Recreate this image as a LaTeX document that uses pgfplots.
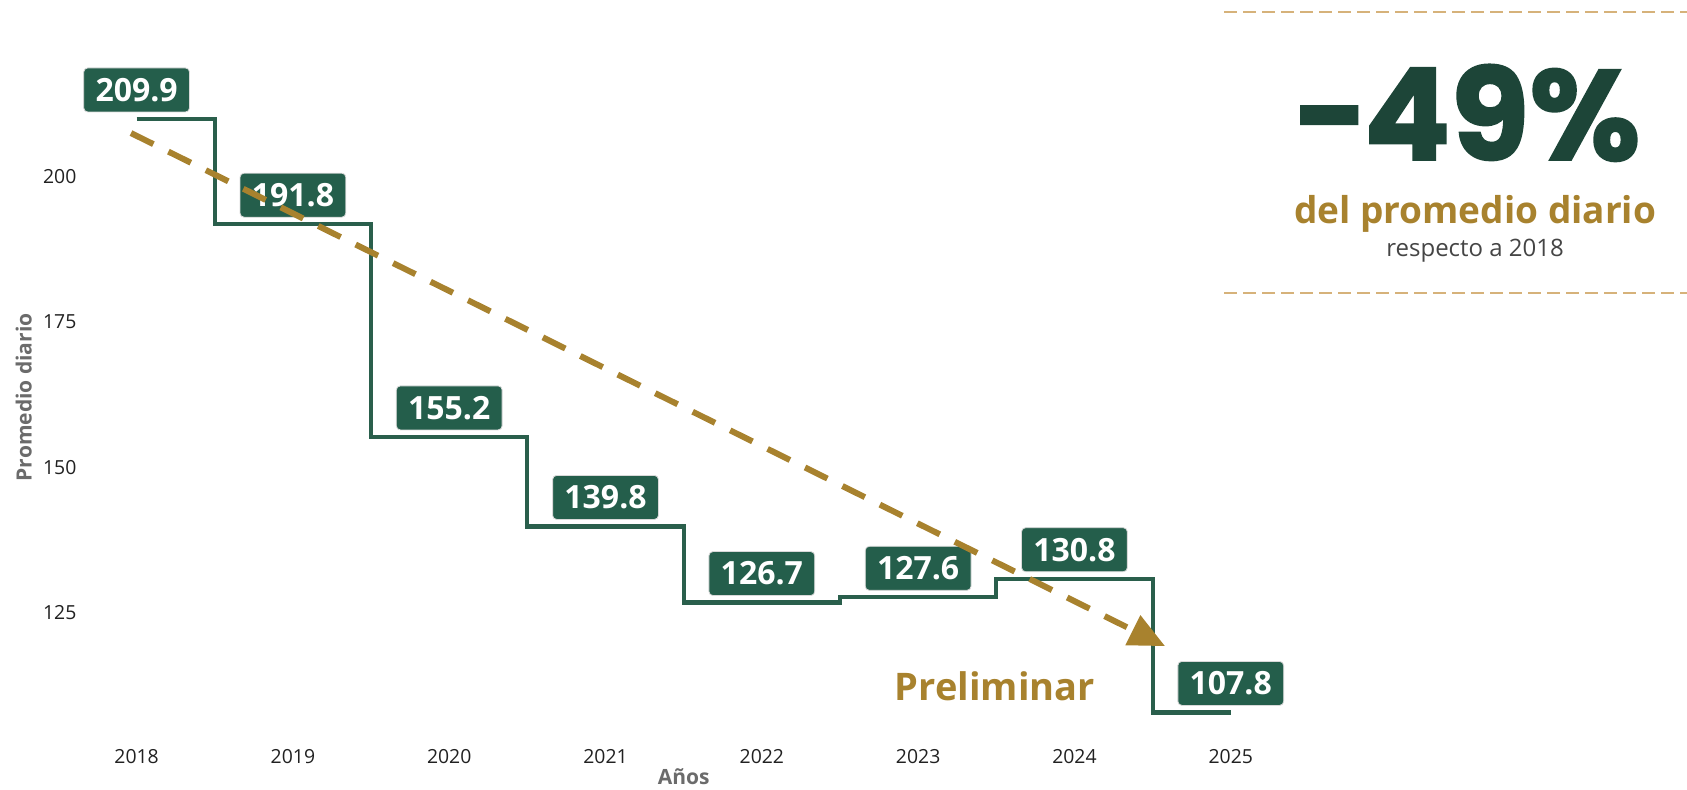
\documentclass[border=0pt]{standalone}
\usepackage{pgfplots}
\pgfplotsset{compat=1.18}
\usetikzlibrary{arrows.meta}
\usepackage{fontspec}
\setmainfont{Open Sans}
\newfontfamily\heavy{Poppins}[BoldFeatures={FakeBold=1.5}]
\definecolor{stepgreen}{HTML}{2A5F4C}
\definecolor{boxgreen}{HTML}{245E4B}
\definecolor{gold}{HTML}{A8822E}
\definecolor{bigdark}{HTML}{1D4538}
\definecolor{rulecol}{HTML}{D6B27A}
\definecolor{labgray}{HTML}{6B6B6B}
\definecolor{subgray}{HTML}{454545}
\begin{document}
\begin{tikzpicture}
\begin{axis}[
  set layers,
  x=78.15pt, y=2.906pt,
  xmin=2017.66, xmax=2025.34,
  ymin=104, ymax=220,
  clip=false,
  axis line style={draw=none},
  major tick length=0pt,
  xtick={2018,2019,2020,2021,2022,2023,2024,2025},
  ytick={125,150,175,200},
  /pgf/number format/assume math mode=true,
  /pgf/number format/1000 sep={},
  ticklabel style={font=\fontsize{9.7}{11}\selectfont, text=black!87},
  xticklabel style={anchor=center, yshift=-11pt},
  xlabel={Años},
  xlabel style={at={(axis description cs:0.5,0)}, anchor=center, yshift=-21.3pt,
    font=\bfseries\fontsize{10.5}{12}\selectfont, text=labgray},
  ylabel={Promedio diario},
  ylabel style={at={(axis description cs:0,0.5)}, anchor=center, yshift=29.9pt,
    font=\bfseries\fontsize{10.5}{12}\selectfont, text=labgray},
]
\addplot[const plot mark mid, draw=stepgreen, line width=2.1pt,
  point meta=explicit symbolic, nodes near coords,
  every node near coord/.append style={anchor=south, yshift=3.3pt,
    fill=boxgreen, draw=white!85!black, line width=0.4pt, rounded corners=2pt,
    text=white, font=\bfseries\fontsize{16}{18}\selectfont,
    inner xsep=5.9pt, inner ysep=5.3pt, text height=11.4pt, text depth=0pt}]
  coordinates {
    (2018,209.9) [209.9]
    (2019,191.8) [191.8]
    (2020,155.2) [155.2]
    (2021,139.8) [139.8]
    (2022,126.7) [126.7]
    (2023,127.6) [127.6]
    (2024,130.8) [130.8]
    (2025,107.8) [107.8]
  };
\addplot[on layer=axis foreground, draw=gold, line width=3pt,
  dash pattern=on 12.5pt off 8.4pt,
  -{Triangle[length=18pt,width=16pt]}]
  coordinates {(2017.964,207.48) (2024.58,119.2)};
\node[anchor=base, text=bigdark, inner sep=0pt, text depth=0pt,
  font=\heavy\bfseries\fontsize{64}{70}\selectfont] at (axis cs:2026.515,202.84) {−49\%};
\node[anchor=base, text=gold, inner sep=0pt,
  font=\bfseries\fontsize{18.5}{21}\selectfont] at (axis cs:2026.563,192.0) {del promedio diario};
\node[anchor=base, text=subgray, inner sep=0pt,
  font=\fontsize{12}{14}\selectfont] at (axis cs:2026.563,186.3) {respecto a 2018};
\node[text=gold, inner sep=0pt,
  font=\bfseries\fontsize{19}{22}\selectfont] at (axis cs:2023.49,112.3) {Preliminar};
\draw[rulecol, line width=0.8pt, dash pattern=on 6.5pt off 3pt]
  (axis cs:2024.957,228.3) -- (axis cs:2027.919,228.3);
\draw[rulecol, line width=0.8pt, dash pattern=on 6.5pt off 3pt]
  (axis cs:2024.957,180.0) -- (axis cs:2027.919,180.0);
\coordinate (bl) at (axis cs:2017.126,94.61);
\coordinate (tr) at (axis cs:2027.919,230.37);
\end{axis}
\pgfresetboundingbox
\useasboundingbox (bl) rectangle (tr);
\end{tikzpicture}
\end{document}
